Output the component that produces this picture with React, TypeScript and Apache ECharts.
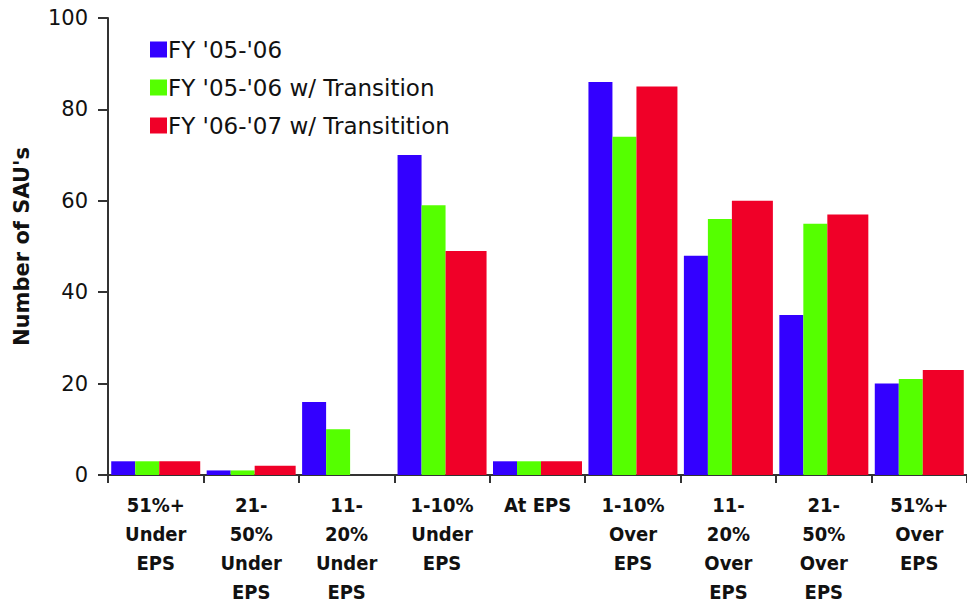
import React, { useEffect, useRef } from "react";
import * as echarts from "echarts";

const categories = [
  "51%+\nUnder\nEPS",
  "21-\n50%\nUnder\nEPS",
  "11-\n20%\nUnder\nEPS",
  "1-10%\nUnder\nEPS",
  "At EPS",
  "1-10%\nOver\nEPS",
  "11-\n20%\nOver\nEPS",
  "21-\n50%\nOver\nEPS",
  "51%+\nOver\nEPS",
];
const fy0506 = [3, 1, 16, 70, 3, 86, 48, 35, 20];
const fy0506Transition = [3, 1, 10, 59, 3, 74, 56, 55, 21];
const fy0607Transition = [3, 2, 0, 49, 3, 85, 60, 57, 23];
const seriesNames = ["FY '05-'06", "FY '05-'06 w/ Transition", "FY '06-'07 w/ Transitition"];

export default function App() {
  const ref = useRef<HTMLDivElement>(null);
  useEffect(() => {
    if (!ref.current) return;
    const chart = echarts.init(ref.current, null, { renderer: "svg" });
    const axisColor = "#333";
    chart.setOption({
      animation: false,
      backgroundColor: "#fff",
      grid: { left: 108, right: -11, top: 18, bottom: 119, containLabel: false },
      legend: {
        orient: "vertical",
        left: 145,
        top: 33,
        itemWidth: 17,
        itemHeight: 16,
        itemGap: 15,
        icon: "rect",
        textStyle: { fontFamily: "DejaVu Sans", fontSize: 23, color: "#111", padding: [0, 0, 0, -4] },
        data: seriesNames,
      },
      xAxis: {
        type: "category",
        data: categories,
        boundaryGap: true,
        axisLine: { lineStyle: { color: axisColor, width: 2 } },
        axisTick: { show: true, length: 8, lineStyle: { color: axisColor, width: 2 } },
        axisLabel: {
          interval: 0,
          margin: 15,
          fontFamily: "DejaVu Sans Condensed, Liberation Sans Narrow, DejaVu Sans",
          fontWeight: "bold",
          fontSize: 20,
          lineHeight: 29,
          color: "#111",
        },
      },
      yAxis: {
        type: "value",
        min: 0,
        max: 100,
        interval: 20,
        name: "Number of SAU's",
        nameLocation: "middle",
        nameGap: 76,
        nameTextStyle: { fontFamily: "DejaVu Sans", fontWeight: "bold", fontSize: 21, color: "#111" },
        splitLine: { show: false },
        axisLine: { show: true, lineStyle: { color: axisColor, width: 2 } },
        axisTick: { show: true, length: 10, lineStyle: { color: axisColor, width: 2 } },
        axisLabel: { margin: 20, fontFamily: "DejaVu Sans", fontSize: 21, color: "#111" },
      },
      series: [
        { name: seriesNames[0], type: "bar", data: fy0506, barWidth: 24, barGap: "0%", itemStyle: { color: "#3300ff" } },
        { name: seriesNames[1], type: "bar", data: fy0506Transition, barWidth: 24, barGap: "0%", itemStyle: { color: "#55ff00" } },
        { name: seriesNames[2], type: "bar", data: fy0607Transition, barWidth: 41, barGap: "0%", itemStyle: { color: "#f00028" } },
      ],
    });
    return () => chart.dispose();
  }, []);
  return <div ref={ref} style={{ position: "fixed", left: 0, top: 0, width: 967, height: 606 }} />;
}
